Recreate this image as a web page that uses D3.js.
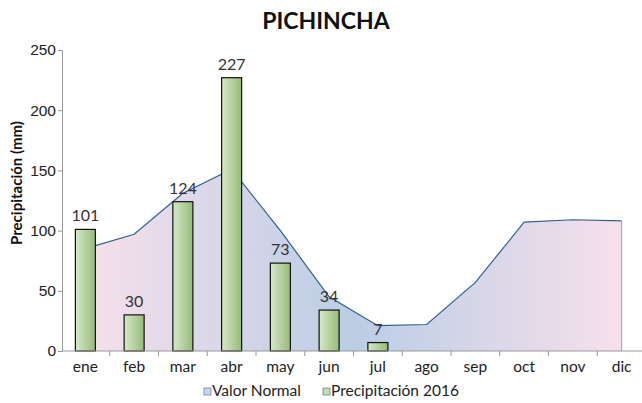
<html>
<head>
<script src="https://d3js.org/d3.v7.min.js"></script>
<style>
body { margin: 0; background: #fff; }
svg { font-family: Lato, 'Open Sans', sans-serif; }
.tick text { fill: #222; font-size: 15.5px; }
</style>
</head>
<body>
<svg width="642" height="403"></svg>
<script>
var months = ["ene", "feb", "mar", "abr", "may", "jun", "jul", "ago", "sep", "oct", "nov", "dic"];
var normal = [85, 97, 131, 151, 100, 45, 21, 22, 57, 107, 109, 108];
var rain2016 = [101, 30, 124, 227, 73, 34, 7, null, null, null, null, null];
var yTicks = [0, 50, 100, 150, 200, 250];

var svg = d3.select("svg");
var m = {left: 62, right: -4, top: 50, bottom: 52};
var W = 642, H = 403;

var x = d3.scaleBand().domain(months).range([m.left - 1, W - m.right]);
var y = d3.scaleLinear().domain([0, 250]).range([351, 50]);

var defs = svg.append("defs");
var ag = defs.append("linearGradient").attr("id", "areaGrad")
	.attr("gradientUnits", "userSpaceOnUse")
	.attr("x1", x("ene") + x.bandwidth() / 2).attr("x2", x("dic") + x.bandwidth() / 2)
	.attr("y1", 0).attr("y2", 0);
ag.append("stop").attr("offset", "0").attr("stop-color", "#f7e0eb");
ag.append("stop").attr("offset", "0.5").attr("stop-color", "#bacde5");
ag.append("stop").attr("offset", "1").attr("stop-color", "#f7e0eb");

var bg = defs.append("linearGradient").attr("id", "barGrad")
	.attr("x1", 0).attr("x2", 1).attr("y1", 0).attr("y2", 0);
bg.append("stop").attr("offset", "0").attr("stop-color", "#d6e9c9");
bg.append("stop").attr("offset", "1").attr("stop-color", "#97bb76");

// title
svg.append("text").attr("x", 326).attr("y", 29).attr("text-anchor", "middle")
	.style("font-size", "23px").style("font-weight", "bold").attr("fill", "#111")
	.text("PICHINCHA");

// area (valor normal)
var cx = function (d, i) { return x(months[i]) + x.bandwidth() / 2; };
var area = d3.area().x(cx).y0(y(0)).y1(function (d) { return y(d); });
var line = d3.line().x(cx).y(function (d) { return y(d); });

svg.append("path").datum(normal).attr("d", area).attr("fill", "url(#areaGrad)");
svg.append("path").datum(normal).attr("d", line)
	.attr("fill", "none").attr("stroke", "#2f5f8f").attr("stroke-width", 1.2);
svg.append("line")
	.attr("x1", cx(null, 11)).attr("x2", cx(null, 11))
	.attr("y1", y(normal[11])).attr("y2", y(0))
	.attr("stroke", "#8aa6c8").attr("stroke-width", 1);

// bars
var bw = 20;
var bars = rain2016.map(function (v, i) { return {m: months[i], v: v}; })
	.filter(function (d) { return d.v != null; });

svg.selectAll("rect.bar").data(bars).enter().append("rect").attr("class", "bar")
	.attr("x", function (d) { return x(d.m) + (x.bandwidth() - bw) / 2; })
	.attr("width", bw)
	.attr("y", function (d) { return y(d.v); })
	.attr("height", function (d) { return y(0) - y(d.v); })
	.attr("fill", "url(#barGrad)").attr("stroke", "#111").attr("stroke-width", 1.2);

svg.selectAll("text.lbl").data(bars).enter().append("text").attr("class", "lbl")
	.attr("x", function (d) { return x(d.m) + x.bandwidth() / 2; })
	.attr("y", function (d) { return y(d.v) - 8; })
	.attr("text-anchor", "middle").style("font-size", "16px").attr("fill", "#333")
	.text(function (d) { return d.v; });

// axes
var yAxis = d3.axisLeft(y).tickValues(yTicks).tickSize(4).tickPadding(2);
var gy = svg.append("g").attr("transform", "translate(" + m.left + ",0)").call(yAxis);
gy.select(".domain").attr("stroke", "#999");
gy.selectAll(".tick line").attr("stroke", "#999");

var gx = svg.append("g").attr("transform", "translate(0," + y(0) + ")");
gx.append("line").attr("x1", m.left).attr("x2", W).attr("stroke", "#999");
gx.selectAll("line.tk").data(months.slice(1)).enter().append("line").attr("class", "tk")
	.attr("x1", function (d) { return x(d); }).attr("x2", function (d) { return x(d); })
	.attr("y1", 0).attr("y2", 5).attr("stroke", "#999");
gx.selectAll("text").data(months).enter().append("text")
	.attr("x", function (d) { return x(d) + x.bandwidth() / 2; })
	.attr("y", 21).attr("text-anchor", "middle")
	.style("font-size", "15.5px").attr("fill", "#222")
	.text(function (d) { return d; });

// y title
svg.append("text").attr("transform", "translate(22,183) rotate(-90)")
	.attr("text-anchor", "middle").style("font-size", "15px").style("font-weight", "bold")
	.attr("fill", "#111").text("Precipitación (mm)");

// legend
var legend = [
	{name: "Valor Normal", fill: "#c9d4ea", x: 204},
	{name: "Precipitación 2016", fill: "#c3deb0", x: 323}
];
var lg = svg.selectAll("g.leg").data(legend).enter().append("g").attr("class", "leg")
	.attr("transform", function (d) { return "translate(" + d.x + ",390)"; });
lg.append("rect").attr("x", 0).attr("y", -2).attr("width", 7).attr("height", 7)
	.attr("fill", function (d) { return d.fill; }).attr("stroke", "#6f87a6").attr("stroke-width", 0.8);
lg.append("text").attr("x", 8).attr("y", 6).style("font-size", "15.5px").attr("fill", "#222")
	.text(function (d) { return d.name; });
</script>
</body>
</html>
